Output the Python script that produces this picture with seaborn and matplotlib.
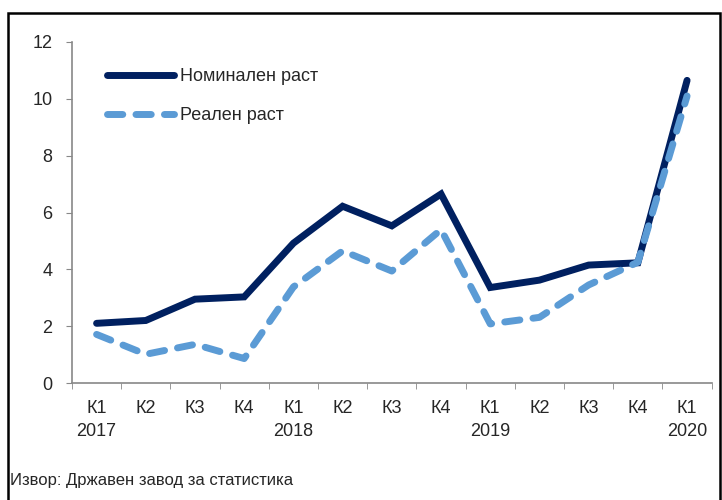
import pandas as pd
import matplotlib.pyplot as plt
import seaborn as sns
from matplotlib.patches import Rectangle

# Data
quarters = ['К1', 'К2', 'К3', 'К4', 'К1', 'К2', 'К3', 'К4', 'К1', 'К2', 'К3', 'К4', 'К1']
years = ['2017', '', '', '', '2018', '', '', '', '2019', '', '', '', '2020']
nominal = [2.1, 2.2, 2.95, 3.03, 4.92, 6.22, 5.53, 6.65, 3.36, 3.62, 4.15, 4.23, 10.65]
real = [1.71, 1.01, 1.36, 0.86, 3.38, 4.65, 3.94, 5.4, 2.08, 2.31, 3.45, 4.25, 10.1]

sns.set_style('white')
plt.rcParams['font.family'] = ['Liberation Sans Narrow', 'Liberation Sans', 'DejaVu Sans']

df = pd.DataFrame({'pos': range(len(quarters)), 'nominal': nominal, 'real': real})

fig = plt.figure(figsize=(7.22, 5), dpi=100)
ax = fig.add_axes([0.0997, 0.234, 0.886, 0.682])

sns.lineplot(data=df, x='pos', y='nominal', ax=ax, color='#002060', linewidth=5,
             label='Номинален раст', solid_capstyle='round', solid_joinstyle='miter')
sns.lineplot(data=df, x='pos', y='real', ax=ax, color='#5B9BD5', linewidth=5,
             label='Реален раст', dashes=(2.2, 1.9), dash_capstyle='round')

ax.set_xlim(-0.5, len(quarters) - 0.5)
ax.set_ylim(0, 12)
ax.set_yticks(range(0, 13, 2))
ax.set_xticks([i for i in range(len(quarters))])
ax.set_xticklabels([q + ('\n' + y if y else '') for q, y in zip(quarters, years)],
                   fontsize=13, linespacing=1.45)
ax.set_xticks([i - 0.5 for i in range(len(quarters) + 1)], minor=True)
ax.tick_params(axis='y', labelsize=13, length=4, color='#888888', direction='out', left=True, pad=10)
ax.tick_params(axis='x', which='major', length=0, pad=12)
ax.tick_params(axis='x', which='minor', length=4, color='#888888', direction='out', bottom=True)
ax.set_xlabel('')
ax.set_ylabel('')

sns.despine(ax=ax)
for s in ['left', 'bottom']:
    ax.spines[s].set_color('#888888')
    ax.spines[s].set_linewidth(1.2)

leg = ax.legend(loc='upper left', bbox_to_anchor=(0.03, 0.97), frameon=False, fontsize=13,
                handlelength=3.7, handletextpad=0.3, labelspacing=1.2)

fig.text(0.014, 0.04, 'Извор: Државен завод за статистика', fontsize=12, ha='left', va='center')

fig.patches.append(Rectangle((0.011, -0.01), 0.986, 0.984, transform=fig.transFigure,
                             fill=False, edgecolor='black', linewidth=1.8))

fig.savefig('out.png', dpi=100)
